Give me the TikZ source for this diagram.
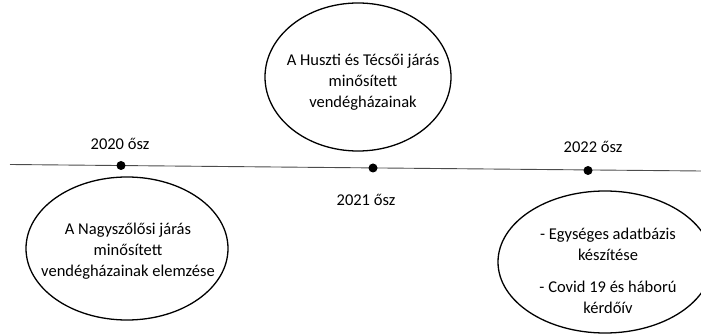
\documentclass[tikz,border=0pt]{standalone}
\usepackage{fontspec}
\setmainfont{Carlito}
\begin{document}
\begin{tikzpicture}[x=1pt,y=-1pt,
  txt/.style={font=\fontsize{16.5}{21}\selectfont, align=center, inner sep=0pt},
  bubble/.style={draw=black, line width=1.3pt},
  dot/.style={circle, fill=black, minimum width=7pt, minimum height=9pt, inner sep=0pt}]
\useasboundingbox (0,0) rectangle (701,336);
\clip (0,0) rectangle (701,336);
\coordinate (L) at (10,164.5);
\coordinate (R) at (701,171);
\draw[line width=0.9pt, black!70] (L) -- (R);
\node[dot] (d1) at (121,165.5) {};
\node[dot] (d2) at (373,168) {};
\node[dot] (d3) at (588,170.5) {};
\node[txt] (l1) at (120,144) {2020 ősz};
\node[txt] (l2) at (366,200) {2021 ősz};
\node[txt] (l3) at (593,147) {2022 ősz};
\draw[bubble] (127,248.5) ellipse [x radius=101, y radius=71.5];
\draw[bubble] (358,77) ellipse [x radius=93, y radius=74];
\draw[bubble] (605,262) ellipse [x radius=107, y radius=71];
\node[txt] (e1) at (128,251) {A Nagyszőlősi járás\\minősített\\vendégházainak elemzése};
\node[txt] (e2) at (363,82) {A Huszti és Técsői járás\\minősített\\vendégházainak};
\node[txt] (e3) at (608,271) {- Egységes adatbázis\\készítése\\[11pt]- Covid 19 és háború\\kérdőív};
\end{tikzpicture}
\end{document}
